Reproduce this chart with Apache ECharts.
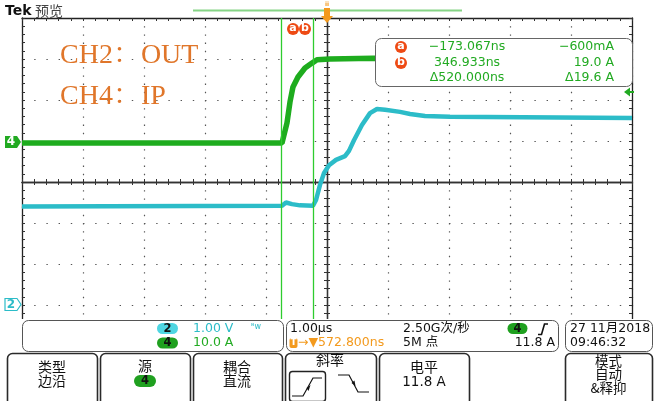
<!DOCTYPE html>
<html><head><meta charset="utf-8">
<script src="https://cdn.jsdelivr.net/npm/echarts@6/dist/echarts.min.js"></script>
<style>html,body{margin:0;padding:0;background:#fff}#c{width:655px;height:401px}</style>
</head><body><div id="c"></div>
<script>
// ---- acquisition settings ----
const hDelayUs = 0.5728;            // T→ 572.800ns (screen centre relative to trigger)
const timePerDivUs = 1.0;           // 1.00µs/div
const ch4ScaleA = 10, ch4OffsetDiv = 0.98;   // CH4 10.0 A/div
const ch2ScaleV = 1,  ch2OffsetDiv = -2.98;  // CH2 1.00 V/div
// ---- waveforms (time in µs relative to trigger) ----
const ch4TimeUs = [-4.427, -0.165, -0.083, -0.034, 0.015, 0.097, 0.212, 0.327, 0.409, 0.622, 1.327, 5.573];
const ch4Amps   = [-0.3, -0.3, 4.6, 9.7, 13.4, 15.8, 18.0, 19.2, 20.0, 20.2, 20.4, 20.2];
const ch2TimeUs = [-4.427, -0.165, -0.099, -0.001, 0.130, 0.343, 0.393, 0.458, 0.524, 0.606, 0.720, 0.868, 0.933, 1.015, 1.146, 1.278, 1.392, 1.524, 1.770, 1.934, 2.179, 2.589, 5.573];
const ch2Volts  = [2.38, 2.40, 2.48, 2.44, 2.41, 2.40, 2.54, 2.91, 3.20, 3.39, 3.52, 3.61, 3.74, 4.00, 4.37, 4.66, 4.76, 4.74, 4.69, 4.64, 4.59, 4.57, 4.54];
// ---- cursors ----
const cursorTimesNs = [-173.067, 346.933];
const cursorTimeLabels = ['\u2212173.067ns', '346.933ns', '\u0394520.000ns'];
const cursorValueLabels = ['\u2212600mA', '19.0 A', '\u039419.6 A'];

const toDivX = t => (t - hDelayUs) / timePerDivUs;
const ch4Data = ch4TimeUs.map((t, i) => [toDivX(t), ch4Amps[i] / ch4ScaleA + ch4OffsetDiv]);
const ch2Data = ch2TimeUs.map((t, i) => [toDivX(t), ch2Volts[i] / ch2ScaleV + ch2OffsetDiv]);

const FONT = '"DejaVu Sans","Noto Sans CJK SC",sans-serif';
const CJK = '"Noto Sans CJK SC",sans-serif';
const GREEN = '#22aa22', CYAN = '#2cbcc8', ORANGE = '#f39a1e', RED = '#ee4a14';

function T(x, y, text, o) { o = o || {};
  return {type:'text', z:o.z||120, style:{x, y, text, fill:o.fill||'#111', font:o.font||('12.5px '+FONT),
    align:o.align||'left', textAlign:o.align||'left', verticalAlign:'middle', textVerticalAlign:'middle'}}; }
function R(x, y, w, h, r, o) { o = o || {};
  return {type:'rect', z:o.z||110, shape:{x, y, width:w, height:h, r}, style:{fill:o.fill||'#fff', stroke:o.stroke||null, lineWidth:o.lw||1}}; }
function C(cx, cy, r, fill, z) { return {type:'circle', z:z||115, shape:{cx, cy, r}, style:{fill}}; }
function PL(pts, stroke, lw, z) { return {type:'polyline', z:z||120, shape:{points:pts}, style:{stroke, lineWidth:lw||1, fill:null}}; }
function PG(pts, fill, z) { return {type:'polygon', z:z||120, shape:{points:pts}, style:{fill}}; }
function pill(cx, cy, w, h, fill, text, z) {
  return [R(cx-w/2, cy-h/2, w, h, h/2, {fill, z:z||115}), T(cx, cy+0.5, text, {align:'center', font:'bold 11.5px '+FONT, fill:'#111', z:(z||115)+5})]; }

const hidden = {show:false};
const border = c => ({show:true, onZero:false, lineStyle:{color:c||'#222', width:1.3}});
const xDots = {show:true, lineStyle:{color:'#555', width:1.2, type:[1.4, 6.8]}};
const yDots = {show:true, lineStyle:{color:'#555', width:1.2, type:[1.4, 10.8]}};
const tickIn = {show:true, inside:true, length:3, lineStyle:{color:'#333', width:1}};
const tickOut = {show:true, inside:false, length:3, lineStyle:{color:'#333', width:1}};
const minor = {show:true, splitNumber:5, length:3, lineStyle:{color:'#333', width:1}};
const G = {left:22, top:18, width:610, height:328};
const xBase = {type:'value', min:-5, max:5, interval:1, axisLabel:hidden};
const yBase = {type:'value', min:-4, max:4, interval:1, axisLabel:hidden};
const centre = {show:true, onZero:true, lineStyle:{color:'#333', width:1.3}};

const chart = echarts.init(document.getElementById('c'), null, {renderer:'canvas'});
const option = {
  animation:false, backgroundColor:'#fff',
  grid:[Object.assign({}, G), Object.assign({}, G), Object.assign({}, G)],
  xAxis:[
    Object.assign({}, xBase, {gridIndex:0, position:'bottom', axisLine:border(), axisTick:tickIn, minorTick:minor, splitLine:xDots}),
    Object.assign({}, xBase, {gridIndex:0, position:'top', axisLine:border(), axisTick:tickIn, minorTick:minor, splitLine:hidden}),
    Object.assign({}, xBase, {gridIndex:1, position:'bottom', axisLine:centre, axisTick:tickIn, minorTick:minor, splitLine:hidden}),
    Object.assign({}, xBase, {gridIndex:2, position:'bottom', axisLine:centre, axisTick:tickOut, minorTick:minor, splitLine:hidden})
  ],
  yAxis:[
    Object.assign({}, yBase, {gridIndex:0, position:'left', axisLine:border(), axisTick:tickIn, minorTick:minor, splitLine:yDots}),
    Object.assign({}, yBase, {gridIndex:0, position:'right', axisLine:border(), axisTick:tickIn, minorTick:minor, splitLine:hidden}),
    Object.assign({}, yBase, {gridIndex:1, position:'left', axisLine:centre, axisTick:tickIn, minorTick:minor, splitLine:hidden}),
    Object.assign({}, yBase, {gridIndex:2, position:'left', axisLine:centre, axisTick:tickOut, minorTick:minor, splitLine:hidden})
  ],
  series:[
    {type:'line', name:'CH2 OUT', xAxisIndex:0, yAxisIndex:0, data:ch2Data, showSymbol:false, z:3,
     lineStyle:{color:CYAN, width:4.5}},
    {type:'line', name:'CH4 IP', xAxisIndex:0, yAxisIndex:0, data:ch4Data, showSymbol:false, z:4,
     lineStyle:{color:'#1eac1e', width:5.5},
     markLine:{silent:true, symbol:'none', label:hidden, animation:false,
       lineStyle:{color:'#2ecc2e', width:1.3, type:'solid', opacity:1},
       emphasis:{disabled:true},
       data:cursorTimesNs.map(ns => ({xAxis: toDivX(ns/1000)}))}}
  ],
  graphic:{elements:[]}
};

const el = [];
// header
el.push(T(5, 11, 'Tek', {font:'bold 14px '+FONT, fill:'#111'}));
el.push(T(35, 11, '预览', {font:'14px '+CJK, fill:'#444'}));
el.push({type:'line', z:100, shape:{x1:193, y1:10.5, x2:462, y2:10.5}, style:{stroke:'#86d486', lineWidth:2}});
el.push(PG([[324,8],[330,8],[330,16],[333,16],[327,23],[321,16],[324,16]], ORANGE));
el.push(T(327, 4, 'ii', {align:'center', font:'bold 6px '+FONT, fill:ORANGE}));
// cursor badges
[['a',293],['b',305]].forEach(([s,x]) => { el.push(C(x, 29, 6, RED)); el.push(T(x, 28.5, s, {align:'center', font:'bold 11px '+FONT, fill:'#fff'})); });
// channel names
el.push(T(60, 56, 'CH2：OUT', {font:'28px "Liberation Serif","Noto Serif CJK SC","Noto Sans CJK SC",serif', fill:'#e0762a'}));
el.push(T(60, 97, 'CH4：IP', {font:'28px "Liberation Serif","Noto Serif CJK SC","Noto Sans CJK SC",serif', fill:'#e0762a'}));
// measurement readout box
el.push(R(375.5, 38.5, 257, 48, 6, {fill:'#fff', stroke:'#666', lw:1}));
[47, 63].forEach((y,i) => { el.push(C(401, y, 6, RED)); el.push(T(401, y-0.5, i ? 'b' : 'a', {align:'center', font:'bold 11px '+FONT, fill:'#fff'})); });
[47, 63, 78].forEach((y,i) => {
  el.push(T(467, y, cursorTimeLabels[i], {align:'center', fill:GREEN}));
  el.push(T(614, y, cursorValueLabels[i], {align:'right', fill:GREEN}));
});
// trigger level arrow (right edge)
el.push(PG([[624,92],[630,87.5],[630,96.5]], GREEN));
el.push({type:'line', z:120, shape:{x1:629, y1:92, x2:634, y2:92}, style:{stroke:GREEN, lineWidth:2}});
// channel ground markers
el.push(PG([[5,136],[17,136],[21,142],[17,148],[5,148]], GREEN));
el.push(T(11, 142, '4', {align:'center', font:'bold 12px '+FONT, fill:'#fff'}));
el.push({type:'polygon', z:120, shape:{points:[[5,298.5],[17,298.5],[21,304.5],[17,310.5],[5,310.5]]}, style:{fill:'#fff', stroke:CYAN, lineWidth:1.2}});
el.push(T(11, 304.5, '2', {align:'center', font:'bold 12px '+FONT, fill:CYAN, z:125}));
// blank lower display area
el.push(R(0, 319, 655, 82, 0, {fill:'#fff', z:90}));
// info boxes
el.push(R(22.5, 320.5, 261, 31, 6, {fill:'#fff', stroke:'#555'}));
el.push(...pill(167.5, 328.5, 21, 11, '#4fd6e2', '2'));
el.push(T(193, 328.5, '1.00 V', {fill:CYAN}));
el.push(T(251, 327, 'ᴮw', {font:'8px '+FONT, fill:CYAN}));
el.push(...pill(167.5, 343, 21, 11, '#1fa01f', '4'));
el.push(T(193, 343, '10.0 A', {fill:GREEN}));
el.push(R(286.5, 320.5, 272, 31, 6, {fill:'#fff', stroke:'#555'}));
el.push(T(290, 328.5, '1.00µs'));
el.push(R(289.5, 338, 8, 10, 2, {fill:ORANGE, z:115}));
el.push(T(293.5, 343, 'T', {align:'center', font:'bold 9px '+FONT, fill:'#fff'}));
el.push(T(298, 343, '→▼572.800ns', {fill:ORANGE, font:'12.5px '+FONT}));
el.push(T(403, 328.5, '2.50G次/秒'));
el.push(T(403, 343, '5M 点'));
el.push(...pill(517.5, 328.5, 20, 11, '#1fa01f', '4'));
el.push(PL([[538,334.5],[541.5,334.5],[544.5,324],[548,324]], '#111', 1.6));
el.push(T(555, 343, '11.8 A', {align:'right'}));
el.push(R(565.5, 320.5, 87, 31, 6, {fill:'#fff', stroke:'#555'}));
el.push(T(570, 328.5, '27 11月2018'));
el.push(T(570, 343, '09:46:32'));
// soft-key buttons
const btn = (x, w) => R(x+0.5, 353.5, w, 52, 5, {fill:'#fff', stroke:'#2a2a2a', lw:1.6});
const bf = '14px '+CJK;
el.push(btn(7, 90)); el.push(T(52, 367, '类型', {align:'center', font:bf})); el.push(T(52, 381, '边沿', {align:'center', font:bf}));
el.push(btn(100, 90)); el.push(T(145, 366, '源', {align:'center', font:bf})); el.push(...pill(145, 381, 22, 12, '#1fa01f', '4'));
el.push(btn(193, 89)); el.push(T(237, 367, '耦合', {align:'center', font:bf})); el.push(T(237, 381, '直流', {align:'center', font:bf}));
el.push(btn(285, 91)); el.push(T(330, 360, '斜率', {align:'center', font:bf}));
el.push(R(289.5, 371.5, 36, 30, 3, {fill:'#fff', stroke:'#222', lw:1.4, z:115}));
el.push(PL([[292,396],[303,396],[313,378],[322,378]], '#111', 1.2));
el.push(PG([[306.5,388],[310.5,385],[308.5,391]], '#111', 125));
el.push(PL([[338,375],[349,375],[358,392],[369,392]], '#111', 1.2));
el.push(PG([[351.5,383],[355.5,386],[354.5,380.5]], '#111', 125));
el.push(btn(379, 90)); el.push(T(424, 367, '电平', {align:'center', font:bf})); el.push(T(424, 382, '11.8 A', {align:'center', font:'13.5px '+FONT}));
el.push(btn(565, 87)); el.push(T(608.5, 361, '模式', {align:'center', font:'13.5px '+CJK})); el.push(T(608.5, 374, '自动', {align:'center', font:'13.5px '+CJK})); el.push(T(608.5, 387.5, '&释抑', {align:'center', font:'13.5px '+CJK}));

option.graphic.elements = el;
chart.setOption(option);
</script></body></html>
